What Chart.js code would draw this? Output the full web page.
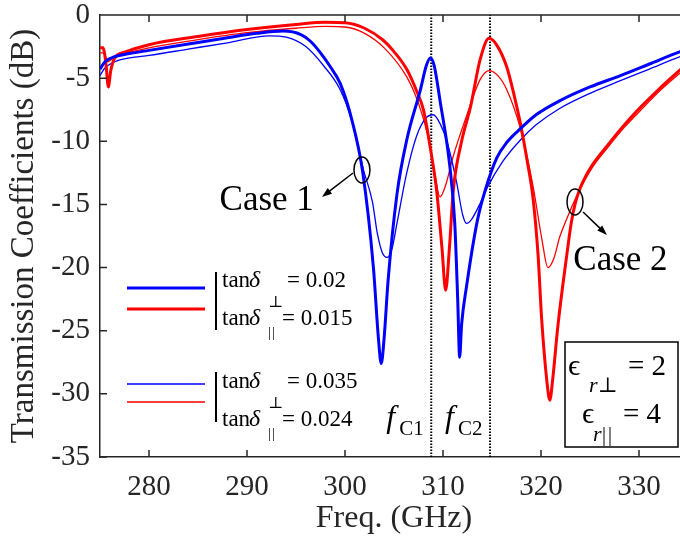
<!DOCTYPE html>
<html>
<head>
<meta charset="utf-8">
<script src="https://cdn.jsdelivr.net/npm/chart.js@4.4.1/dist/chart.umd.min.js"></script>
<style>
  html, body { margin: 0; padding: 0; background: #fff; overflow: hidden; }
  canvas { display: block; }
</style>
</head>
<body>
<canvas id="tcChart" width="700" height="544"></canvas>
<script>
const xTicks = [280, 290, 300, 310, 320, 330];
const yTicks = [0, -5, -10, -15, -20, -25, -30, -35];

// Case 1 (blue), low loss: tanδ⊥ = 0.02, tanδ∥ = 0.015
const freqBlueThick = [275, 275.5, 276.5, 278, 280, 284, 288, 291, 293.7, 295.5, 296.5, 297.5, 298.5, 299.5, 300.7, 301.8, 302.9, 303.4, 303.7, 304.0, 304.4, 305.3, 306.3, 307.7, 308.3, 308.7, 309.1, 309.7, 310.7, 311.2, 311.5, 311.7, 311.9, 312.4, 313.5, 314.3, 315.5, 316.5, 317.9, 319.5, 321.9, 325, 328.1, 331, 334.2, 335];
const tcBlueThick   = [-4.3, -3.7, -3.3, -3.05, -2.8, -2.3, -1.8, -1.45, -1.27, -1.55, -2.1, -3.0, -4.1, -5.4, -8.3, -12.4, -20.0, -25.5, -27.6, -25.5, -21.0, -14.2, -9.9, -5.9, -4.0, -3.4, -4.0, -6.8, -12.0, -16.5, -22.5, -27.1, -24.5, -21.5, -16.3, -13.9, -11.3, -10.1, -9.0, -7.9, -6.8, -5.7, -4.8, -3.9, -2.9, -2.7];

// Case 1 (blue), high loss: tanδ⊥ = 0.035, tanδ∥ = 0.024
const freqBlueThin = [275, 275.5, 276.5, 278, 280, 284, 288, 292.3, 294, 296, 297.8, 299.5, 300.7, 301.9, 302.8, 303.3, 303.8, 304.3, 304.8, 305.3, 306.3, 307.3, 308.2, 309.0, 309.7, 310.4, 311.4, 312.0, 312.4, 312.9, 313.8, 314.5, 316.1, 317.9, 319.5, 321.9, 325, 328.1, 331, 334.2, 335];
const tcBlueThin   = [-4.8, -4.2, -3.7, -3.4, -3.2, -2.7, -2.2, -1.65, -1.75, -2.5, -4.0, -5.9, -8.4, -12.3, -14.8, -17.3, -18.8, -19.2, -18.5, -16.5, -12.5, -9.6, -8.2, -7.9, -8.6, -10.0, -13.3, -15.8, -16.5, -16.2, -14.9, -13.7, -11.6, -9.9, -8.7, -7.4, -6.2, -5.2, -4.3, -3.3, -3.1];

// Case 2 (red), low loss
const freqRedThick = [275, 275.3, 275.6, 275.85, 276.1, 276.5, 277.5, 280, 285, 290, 295, 298, 300, 302, 303.9, 305, 306.3, 307.3, 308, 308.7, 309.35, 309.9, 310.27, 310.65, 311.05, 311.9, 312.8, 313.8, 314.7, 315.5, 316.5, 317.3, 317.9, 318.6, 319.2, 319.7, 320.07, 320.6, 320.9, 321.2, 321.7, 322.24, 322.7, 323.1, 323.5, 324.0, 324.6, 325.3, 326.7, 328.5, 330.1, 332, 334.2, 335];
const tcRedThick   = [-2.6, -2.6, -3.8, -5.7, -4.4, -3.4, -2.95, -2.35, -1.7, -1.15, -0.75, -0.58, -0.62, -1.05, -2.0, -2.9, -4.3, -6.0, -7.5, -10.5, -13.9, -18.5, -21.8, -18.5, -13.9, -10.0, -7.3, -3.5, -1.85, -2.4, -4.1, -6.5, -8.6, -11.6, -14.6, -19.0, -24.1, -29.0, -30.5, -28.8, -24.8, -21.3, -18.6, -16.4, -14.9, -13.7, -12.7, -11.8, -10.4, -8.7, -7.35, -5.9, -4.35, -3.8];

// Case 2 (red), high loss
const freqRedThin = [275, 275.4, 275.8, 276.2, 277, 280, 285, 290, 295, 298, 300, 302, 304, 306.3, 307.5, 308.4, 309.1, 309.7, 310.3, 311, 312.4, 313.8, 314.7, 315.6, 316.5, 317.9, 319.2, 320.1, 320.7, 321.3, 321.9, 322.6, 323.3, 324.0, 324.6, 325.3, 326.7, 328.5, 330.1, 332, 334.2, 335];
const tcRedThin   = [-3.0, -3.0, -3.7, -3.5, -3.2, -2.6, -1.95, -1.4, -1.05, -0.9, -0.95, -1.45, -2.6, -4.9, -7.0, -9.4, -12.3, -14.4, -13.4, -11.3, -8.0, -5.1, -4.4, -4.8, -5.9, -9.0, -13.6, -17.8, -20.0, -19.3, -17.6, -16.2, -14.9, -13.8, -12.9, -12.0, -10.6, -8.9, -7.6, -6.1, -4.6, -4.1];

// cut-off frequencies f_C1, f_C2 (GHz)
const fCutoff = [308.8, 314.8];
// loss tangents for the two loss sets
const lossPerp = [0.02, 0.035];
const lossPar = [0.015, 0.024];
const epsPerp = 2;
const epsPar = 4;

const SERIF = "'Liberation Serif', 'Times New Roman', 'DejaVu Serif', serif";
const AXIS = '#262626';
const BLUE = '#0000ff';
const RED = '#ff0000';

const pts = (f, v) => f.map((x, i) => ({ x, y: v[i] }));

function curve(f, v, color, width) {
  return {
    data: pts(f, v),
    borderColor: color,
    borderWidth: width,
    pointRadius: 0,
    fill: false,
    cubicInterpolationMode: 'monotone'
  };
}

function cutoffLine(fc) {
  return {
    data: [{ x: fc, y: -35 }, { x: fc, y: 0 }],
    borderColor: '#000',
    borderWidth: 2,
    borderDash: [1.5, 1.5],
    pointRadius: 0
  };
}

function textRuns(ctx, x0, y0, parts) {
  parts.forEach(p => {
    ctx.font = (p.italic ? 'italic ' : '') + p.size + 'px ' + SERIF;
    ctx.fillText(p.t, x0 + p.x, y0 + (p.y || 0));
  });
}

// parallel sign drawn as two bars
function parallel(x, y, size) {
  return [{ t: '|', x: x, y: y, size: size }, { t: '|', x: x + size * 0.3, y: y, size: size }];
}

function arrow(ctx, x1, y1, x2, y2) {
  const a = Math.atan2(y2 - y1, x2 - x1);
  const L = 10, W = 3.5;
  ctx.beginPath();
  ctx.moveTo(x1, y1);
  ctx.lineTo(x2 - L * 0.7 * Math.cos(a), y2 - L * 0.7 * Math.sin(a));
  ctx.stroke();
  ctx.beginPath();
  ctx.moveTo(x2, y2);
  ctx.lineTo(x2 - L * Math.cos(a) + W * Math.sin(a), y2 - L * Math.sin(a) - W * Math.cos(a));
  ctx.lineTo(x2 - L * Math.cos(a) - W * Math.sin(a), y2 - L * Math.sin(a) + W * Math.cos(a));
  ctx.closePath();
  ctx.fill();
}

const overlay = {
  id: 'overlay',
  afterDraw(chart) {
    const { ctx, chartArea: a, scales: { x, y } } = chart;
    const px = v => x.getPixelForValue(v);
    const py = v => y.getPixelForValue(v);
    ctx.save();

    // box frame and inward ticks
    ctx.strokeStyle = AXIS;
    ctx.lineWidth = 1.5;
    ctx.beginPath();
    ctx.moveTo(a.left, a.top); ctx.lineTo(a.right, a.top); ctx.lineTo(a.right, a.bottom);
    const tl = 7;
    xTicks.forEach(v => {
      ctx.moveTo(px(v), a.bottom); ctx.lineTo(px(v), a.bottom - tl);
      ctx.moveTo(px(v), a.top); ctx.lineTo(px(v), a.top + tl);
    });
    yTicks.forEach(v => {
      ctx.moveTo(a.left, py(v)); ctx.lineTo(a.left + tl, py(v));
      ctx.moveTo(a.right, py(v)); ctx.lineTo(a.right - tl, py(v));
    });
    ctx.stroke();

    ctx.fillStyle = '#000';
    ctx.strokeStyle = '#000';
    ctx.textBaseline = 'alphabetic';
    ctx.textAlign = 'left';

    // case markers
    ctx.lineWidth = 1.5;
    [[301.73, -12.27], [323.47, -14.8]].forEach(([f, d]) => {
      ctx.beginPath();
      ctx.ellipse(px(f), py(d), 8, 13, 0, 0, Math.PI * 2);
      ctx.stroke();
    });
    arrow(ctx, px(300.82), py(-12.51), px(297.65), py(-14.41));
    arrow(ctx, px(324.29), py(-15.6), px(326.73), py(-17.42));
    ctx.font = '35px ' + SERIF;
    ctx.fillText('Case 1', px(287.2), py(-15.45));
    ctx.fillText('Case 2', px(323.3), py(-20.2));

    // cut-off labels
    fCutoff.forEach((fc, i) => {
      const xr = px(fc);
      textRuns(ctx, xr - 48, py(-32.6), [
        { t: 'f', x: 3, size: 32, italic: true },
        { t: 'C' + (i + 1), x: 16, y: 8, size: 21 }
      ]);
    });

    // legend for the two loss sets
    const legendRows = [
      { y: 288, color: BLUE, w: 3 }, { y: 309, color: RED, w: 3 },
      { y: 384, color: BLUE, w: 1.3 }, { y: 402, color: RED, w: 1.3 }
    ];
    legendRows.forEach(r => {
      ctx.strokeStyle = r.color;
      ctx.lineWidth = r.w;
      ctx.beginPath(); ctx.moveTo(127, r.y); ctx.lineTo(205, r.y); ctx.stroke();
    });
    ctx.strokeStyle = '#000';
    ctx.lineWidth = 2;
    ctx.beginPath();
    ctx.moveTo(216, 272); ctx.lineTo(216, 330);
    ctx.moveTo(216, 372); ctx.lineTo(216, 422);
    ctx.stroke();
    const base = [287, 325, 388, 426];
    [0, 1].forEach(k => {
      textRuns(ctx, 222, base[2 * k], [
        { t: 'tan', x: 0, size: 23 }, { t: 'δ', x: 27, size: 24, italic: true },
        { t: '⊥', x: 46, y: 20, size: 16 }, { t: '= ' + lossPerp[k], x: 65, size: 23 }
      ]);
      textRuns(ctx, 222, base[2 * k + 1], [
        { t: 'tan', x: 0, size: 23 }, { t: 'δ', x: 27, size: 24, italic: true },
        ...parallel(46, 12, 14), { t: '= ' + lossPar[k], x: 60, size: 23 }
      ]);
    });

    // permittivity box
    ctx.fillStyle = '#fff';
    ctx.fillRect(565, 342, 113, 105);
    ctx.lineWidth = 1.5;
    ctx.strokeRect(565, 342, 113, 105);
    ctx.fillStyle = '#000';
    textRuns(ctx, 567, 375, [
      { t: 'ϵ', x: 1, size: 30 }, { t: 'r', x: 22, y: 17, size: 22, italic: true },
      { t: '⊥', x: 31, y: 17, size: 21 }, { t: '= ' + epsPerp, x: 61, size: 29 }
    ]);
    textRuns(ctx, 581, 423, [
      { t: 'ϵ', x: 1, size: 30 }, { t: 'r', x: 12, y: 18, size: 22, italic: true },
      ...parallel(21, 18, 20), { t: '= ' + epsPar, x: 42, size: 29 }
    ]);

    ctx.restore();
  }
};

new Chart(document.getElementById('tcChart').getContext('2d'), {
  type: 'line',
  data: {
    datasets: [
      curve(freqBlueThick, tcBlueThick, BLUE, 3),
      curve(freqRedThick, tcRedThick, RED, 3),
      curve(freqBlueThin, tcBlueThin, BLUE, 1.3),
      curve(freqRedThin, tcRedThin, RED, 1.3),
      cutoffLine(fCutoff[0]),
      cutoffLine(fCutoff[1])
    ]
  },
  options: {
    responsive: false,
    animation: false,
    layout: { padding: { left: 0, right: 12, top: 15, bottom: 0 } },
    plugins: { legend: { display: false }, tooltip: { enabled: false } },
    scales: {
      x: {
        type: 'linear',
        min: 275,
        max: 335,
        afterBuildTicks: s => { s.ticks = xTicks.map(v => ({ value: v })); },
        afterFit: s => { s.height = 87; s.paddingLeft = 0; s.paddingRight = 0; },
        grid: { display: false, drawTicks: false },
        border: { display: true, color: AXIS, width: 1.5 },
        ticks: { font: { family: SERIF, size: 29 }, color: AXIS, padding: 13, maxRotation: 0 },
        title: { display: true, text: 'Freq. (GHz)', font: { family: SERIF, size: 32 }, color: AXIS, padding: { top: 0, bottom: 6 } }
      },
      y: {
        min: -35,
        max: 0,
        afterBuildTicks: s => { s.ticks = yTicks.map(v => ({ value: v })); },
        afterFit: s => { s.width = 100; s.paddingTop = 0; s.paddingBottom = 0; },
        grid: { display: false, drawTicks: false },
        border: { display: true, color: AXIS, width: 1.5 },
        ticks: { font: { family: SERIF, size: 29 }, color: AXIS, padding: 10 },
        title: { display: true, text: 'Transmission Coefficients (dB)', font: { family: SERIF, size: 33 }, color: AXIS, padding: { top: 5, bottom: 0 } }
      }
    }
  },
  plugins: [overlay]
});
</script>
</body>
</html>
